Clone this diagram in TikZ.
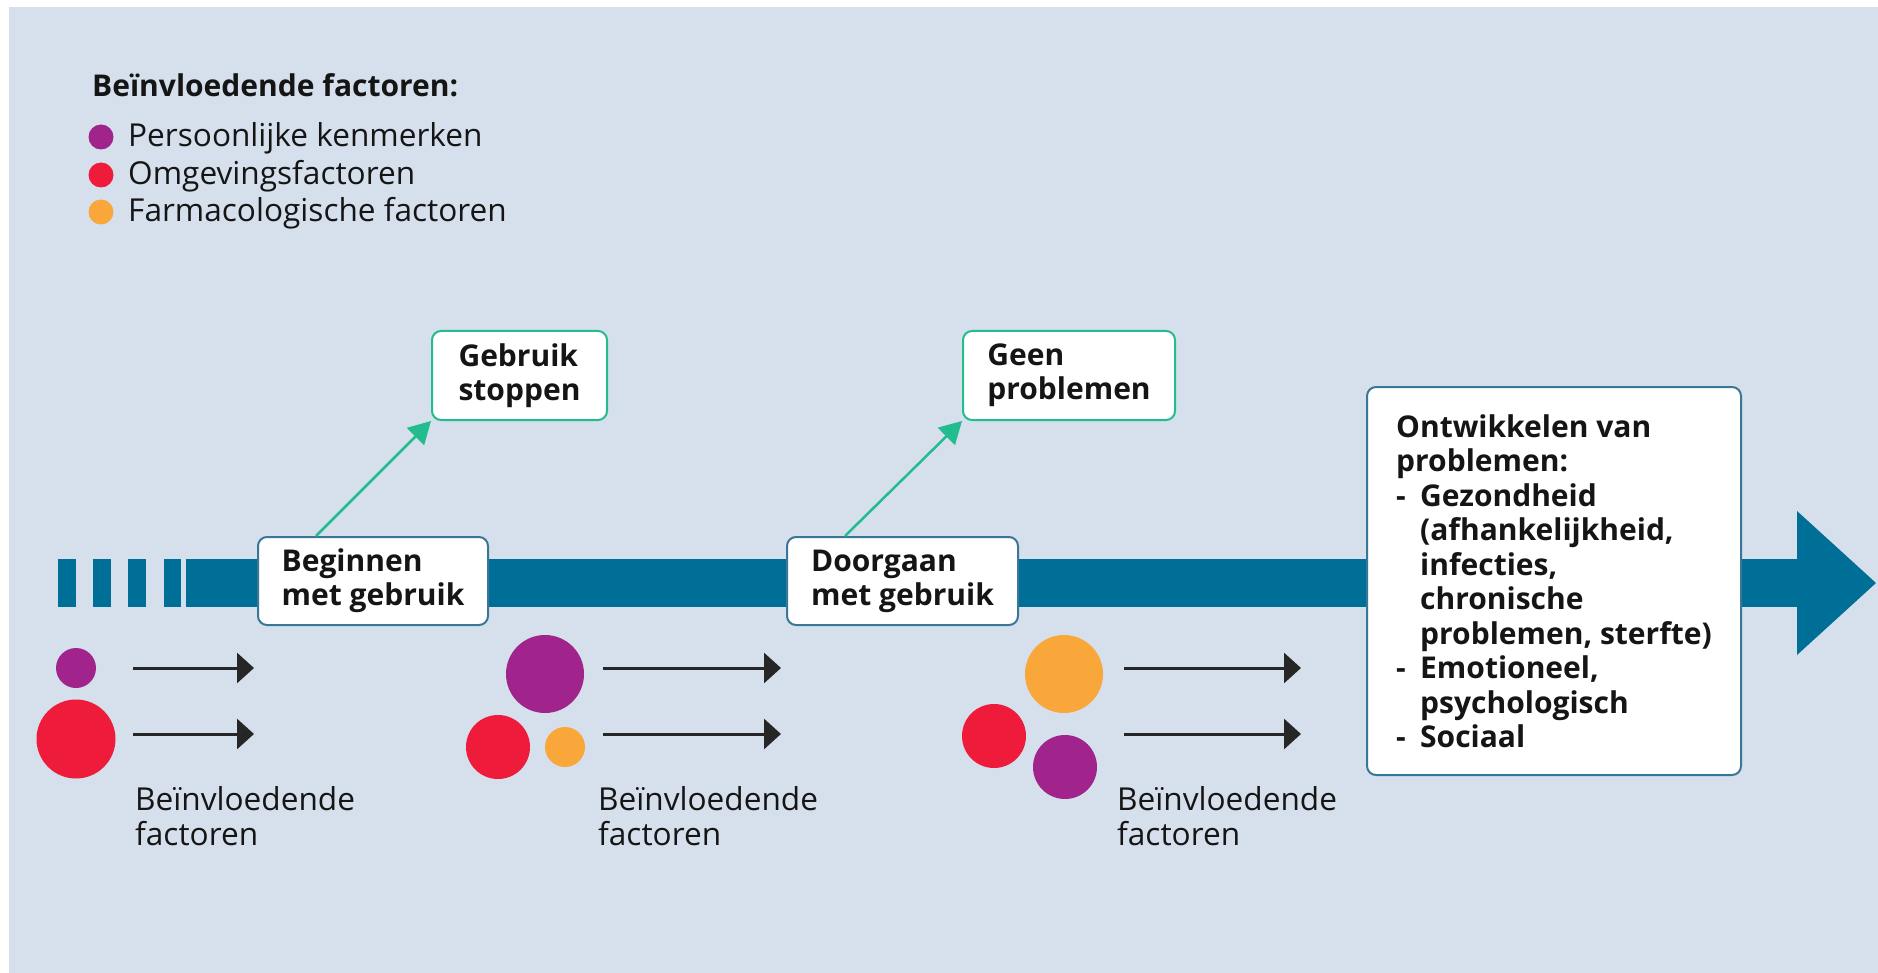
\documentclass[tikz,border=0pt]{standalone}
\usepackage{fontspec}
\setmainfont{Open Sans}
\usetikzlibrary{arrows.meta,calc}
\definecolor{bgblue}{HTML}{D5E0EC}
\definecolor{barblue}{HTML}{006F98}
\definecolor{boxline}{HTML}{3A7797}
\definecolor{tealgreen}{HTML}{22BC8E}
\definecolor{cpurple}{HTML}{A0248C}
\definecolor{cred}{HTML}{EE1B3A}
\definecolor{corange}{HTML}{F9A73A}
\definecolor{txt}{HTML}{151515}
\newcommand{\regfont}{\fontsize{31.6}{35}\selectfont}
\newcommand{\boldfont}{\fontsize{30}{34}\selectfont\bfseries}
\newcommand{\bigboxfont}{\fontsize{30}{34.5}\selectfont\bfseries}
\begin{document}
\begin{tikzpicture}[x=1pt,y=-1pt,
  stepbox/.style={draw=boxline, line width=2pt, fill=white, rounded corners=9pt,
    font=\boldfont, text=txt, align=left, inner sep=0pt},
  outbox/.style={stepbox, draw=tealgreen},
  dot/.style={circle, inner sep=0pt, minimum size=#1},
  factorarrow/.style={draw=black!85, line width=3pt, -{Triangle[length=17pt,width=30pt]}},
  exitarrow/.style={draw=tealgreen, line width=2.5pt, -{Triangle[length=22pt,width=24pt]}},
  legtext/.style={anchor=base west, inner sep=0pt, font=\regfont, text=txt},
  grouplabel/.style={anchor=north west, inner sep=0pt, font=\regfont, text=txt, align=left}
]
\useasboundingbox (0,0) rectangle (1878,973);
\fill[white] (0,0) rectangle (1878,973);
\fill[bgblue] (9,7) rectangle (1878,973);

% legend
\node[anchor=base west, inner sep=0pt, font=\boldfont, text=txt] (legtitle) at (92,97) {Beïnvloedende factoren:};
\node[dot=25pt, fill=cpurple] (ld1) at (101,137) {};
\node[dot=25pt, fill=cred] (ld2) at (101,175) {};
\node[dot=25pt, fill=corange] (ld3) at (101,212) {};
\node[legtext] (lt1) at (128,147) {Persoonlijke kenmerken};
\node[legtext] (lt2) at (128,185) {Omgevingsfactoren};
\node[legtext] (lt3) at (128,222) {Farmacologische factoren};

% timeline bar
\fill[barblue] (58,559) rectangle (76,607);
\fill[barblue] (93,559) rectangle (111,607);
\fill[barblue] (128,559) rectangle (146,607);
\fill[barblue] (164,559) rectangle (181,607);
\fill[barblue] (186,559) rectangle (1798,607);
\fill[barblue] (1797,511) -- (1876,583) -- (1797,655) -- cycle;

% boxes
\node[stepbox, minimum width=230pt, minimum height=88pt] (begin) at (373,581) {Beginnen\\met gebruik};
\node[outbox, minimum width=175pt, minimum height=89pt] (stop) at (519.5,375.5) {Gebruik\\stoppen};
\node[stepbox, minimum width=231pt, minimum height=88pt] (cont) at (902.5,581) {Doorgaan\\met gebruik};
\node[outbox, minimum width=212pt, minimum height=89pt] (noprob) at (1069,375.5) {Geen\\problemen};
\node[stepbox, font=\bigboxfont, minimum width=374pt, minimum height=388pt] (prob) at (1554,581) {Ontwikkelen van\\problemen:\\\makebox[24pt][l]{-}Gezondheid\\\hspace*{24pt}(afhankelijkheid,\\\hspace*{24pt}infecties,\\\hspace*{24pt}chronische\\\hspace*{24pt}problemen, sterfte)\\\makebox[24pt][l]{-}Emotioneel,\\\hspace*{24pt}psychologisch\\\makebox[24pt][l]{-}Sociaal};

\draw[exitarrow] ($(begin.north west)+(59,0)$) -- (stop.south west);
\draw[exitarrow] ($(cont.north west)+(59,0)$) -- (noprob.south west);

% group 1
\node[dot=40pt, fill=cpurple] (g1p) at (76,668) {};
\node[dot=79pt, fill=cred] (g1r) at (76,739) {};
\coordinate (g1s1) at (133,668); \coordinate (g1e1) at (254,668);
\coordinate (g1s2) at (133,734); \coordinate (g1e2) at (254,734);
\draw[factorarrow] (g1s1) -- (g1e1);
\draw[factorarrow] (g1s2) -- (g1e2);
\node[grouplabel] (g1l) at (135,786) {Beïnvloedende\\factoren};

% group 2
\node[dot=78pt, fill=cpurple] (g2p) at (545,674) {};
\node[dot=64pt, fill=cred] (g2r) at (498,747) {};
\node[dot=40pt, fill=corange] (g2o) at (565,747) {};
\coordinate (g2s1) at (603,668); \coordinate (g2e1) at (781,668);
\coordinate (g2s2) at (603,734); \coordinate (g2e2) at (781,734);
\draw[factorarrow] (g2s1) -- (g2e1);
\draw[factorarrow] (g2s2) -- (g2e2);
\node[grouplabel] (g2l) at (598,786) {Beïnvloedende\\factoren};

% group 3
\node[dot=78pt, fill=corange] (g3o) at (1064,674) {};
\node[dot=64pt, fill=cred] (g3r) at (994,736) {};
\node[dot=64pt, fill=cpurple] (g3p) at (1065,767) {};
\coordinate (g3s1) at (1124,668); \coordinate (g3e1) at (1301,668);
\coordinate (g3s2) at (1124,734); \coordinate (g3e2) at (1301,734);
\draw[factorarrow] (g3s1) -- (g3e1);
\draw[factorarrow] (g3s2) -- (g3e2);
\node[grouplabel] (g3l) at (1117,786) {Beïnvloedende\\factoren};
\end{tikzpicture}
\end{document}
